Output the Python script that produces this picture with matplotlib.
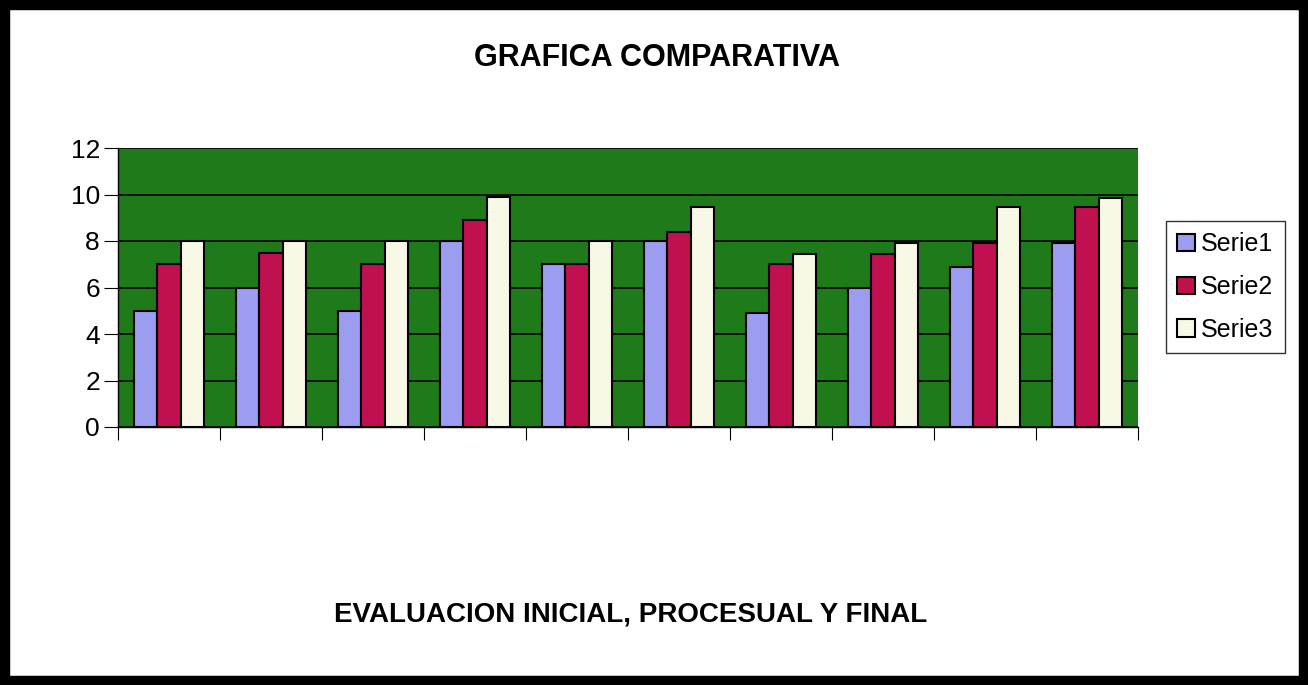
import matplotlib.pyplot as plt
import numpy as np
from matplotlib.patches import Rectangle

plt.rcParams['font.family'] = ['Liberation Sans', 'DejaVu Sans']

# valores
grupos = np.arange(10)
serie1 = [5, 6, 5, 8, 7, 8, 4.9, 6, 6.9, 7.9]
serie2 = [7, 7.5, 7, 8.9, 7, 8.4, 7, 7.45, 7.9, 9.45]
serie3 = [8, 8, 8, 9.9, 8, 9.45, 7.45, 7.9, 9.45, 9.85]
nombres = ['Serie1', 'Serie2', 'Serie3']
colores = ['#9c9cf0', '#c01050', '#f8f8e6']

fig = plt.figure(figsize=(13.08, 6.85), dpi=100)
ax = fig.add_axes([118/1308, 1-427/685, (1138-118)/1308, (427-148)/685])
ax.set_facecolor('#1f7a1a')

w = 0.23
for i, (vals, nom, col) in enumerate(zip([serie1, serie2, serie3], nombres, colores)):
    ax.bar(grupos + (i-1)*w, vals, w, color=col, edgecolor='black', linewidth=1.5,
           label=nom, zorder=3)

ax.set_xlim(-0.5, 9.5)
ax.set_ylim(0, 12)
ax.set_yticks(range(0, 13, 2))
ax.set_xticks(np.arange(-0.5, 10, 1))
ax.set_xticklabels([])
ax.grid(axis='y', color='black', linewidth=1.2, zorder=1)
ax.tick_params(axis='y', labelsize=19, length=10, direction='out', pad=3)
ax.tick_params(axis='x', length=9, direction='out')
for s in ['top', 'right']:
    ax.spines[s].set_visible(False)
ax.spines['left'].set_linewidth(1.0)
ax.spines['bottom'].set_linewidth(1.0)

fig.text(657/1308, 1-58/685, 'GRAFICA COMPARATIVA', ha='center', va='center',
         fontsize=22, fontweight='bold')
fig.text(631/1308, 1-615/685, 'EVALUACION INICIAL, PROCESUAL Y FINAL', ha='center',
         va='center', fontsize=20, fontweight='bold')

leg = fig.legend(loc='upper left', bbox_to_anchor=(1166/1308, 1-221/685),
                 fontsize=18, frameon=True, fancybox=False, edgecolor='black',
                 handlelength=0.7, handleheight=0.7, handletextpad=0.25,
                 labelspacing=0.75, borderpad=0.45, borderaxespad=0)
leg.get_frame().set_linewidth(1.0)

fig.patches.append(Rectangle((0, 0), 1, 1, transform=fig.transFigure, fill=False,
                             edgecolor='black', linewidth=14))

fig.savefig('out.png', dpi=100)
